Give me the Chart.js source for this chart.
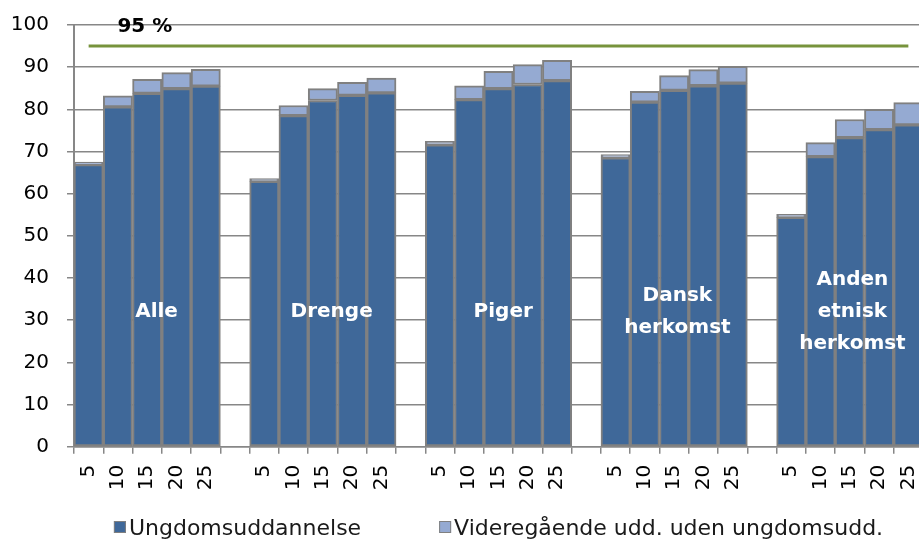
<!DOCTYPE html>
<html><head><meta charset="utf-8">
<script src="https://cdn.jsdelivr.net/npm/chart.js@4.4.0/dist/chart.umd.min.js"></script>
<style>
html,body{margin:0;padding:0;overflow:hidden;background:#fff;width:919px;height:544px}
#wrap{position:absolute;left:0;top:0;width:925px;height:544px}
</style></head>
<body><div id="wrap"><canvas id="c"></canvas></div>
<script>
// ---- data ----
const categories = ['5','10','15','20','25','', '5','10','15','20','25','', '5','10','15','20','25','', '5','10','15','20','25','', '5','10','15','20','25'];
const ungdomsuddannelse = [66.9,80.6,83.8,84.9,85.5,null, 62.9,78.5,82.1,83.3,83.9,null, 71.6,82.3,84.9,85.9,86.8,null, 68.5,81.7,84.5,85.6,86.2,null, 54.4,68.8,73.3,75.2,76.3];
const videregaaende = [0.6,2.6,3.3,3.8,4.0,null, 0.7,2.4,2.8,3.1,3.5,null, 0.8,3.3,4.1,4.7,4.8,null, 0.8,2.6,3.5,3.8,4.0,null, 0.7,3.3,4.3,4.8,5.3];
const maal = [95,95,95,95,95,95,95,95,95,95,95,95,95,95,95,95,95,95,95,95,95,95,95,95,95,95,95,95,95];
const yTicks = [0,10,20,30,40,50,60,70,80,90,100];
const seriesNames = ['Ungdomsuddannelse','Videregående udd. uden ungdomsudd.'];
const targetLabel = '95 %';
const groupLabels = [['Alle'],['Drenge'],['Piger'],['Dansk','herkomst'],['Anden','etnisk','herkomst']];

// ---- label placement (style) ----
const groupLabelX = [2.32, 8.30, 14.16, 20.11, 26.09];
const groupLabelY = 30.7;
const targetLabelX = 1.92, targetLabelY = 98.4;

Chart.defaults.font.family = '"DejaVu Sans", sans-serif';
Chart.defaults.color = '#000';
const GRID = '#878787';
const FONT = '"DejaVu Sans", sans-serif';

const annot = {
  id: 'annot',
  afterDatasetsDraw(chart) {
    const {ctx, scales: {x, y}} = chart;
    ctx.save();
    ctx.font = 'bold 20px ' + FONT;
    ctx.textAlign = 'center';
    ctx.textBaseline = 'alphabetic';
    ctx.fillStyle = '#000';
    ctx.fillText(targetLabel, x.getPixelForValue(targetLabelX), y.getPixelForValue(targetLabelY));
    ctx.fillStyle = '#fff';
    groupLabels.forEach((lines, i) => {
      const cx = x.getPixelForValue(groupLabelX[i]);
      const cy = y.getPixelForValue(groupLabelY);
      lines.forEach((t, j) => ctx.fillText(t, cx, cy + (j - (lines.length - 1) / 2) * 32));
    });
    ctx.restore();
  }
};

// legend drawn from the datasets' own labels and colours
const bottomLegend = {
  id: 'bottomLegend',
  afterDraw(chart, args, opts) {
    const {ctx, chartArea} = chart;
    const sets = chart.data.datasets.filter(d => d.type !== 'line');
    ctx.save();
    ctx.font = opts.fontSize + 'px ' + FONT;
    ctx.textBaseline = 'alphabetic';
    ctx.textAlign = 'left';
    const widths = sets.map(d => ctx.measureText(d.label).width);
    const total = widths.reduce((a, w) => a + opts.box + opts.gap + w, 0) + opts.spacing * (sets.length - 1);
    let xPos = (chartArea.left + chartArea.right) / 2 - total / 2;
    sets.forEach((d, i) => {
      ctx.fillStyle = d.backgroundColor;
      ctx.fillRect(xPos, opts.boxTop, opts.box, opts.box);
      ctx.strokeStyle = '#808080';
      ctx.lineWidth = 1;
      ctx.strokeRect(xPos + 0.5, opts.boxTop + 0.5, opts.box - 1, opts.box - 1);
      ctx.fillStyle = '#1a1a1a';
      ctx.fillText(d.label, xPos + opts.box + opts.gap, opts.baseline);
      xPos += opts.box + opts.gap + widths[i] + opts.spacing;
    });
    ctx.restore();
  }
};

new Chart(document.getElementById('c'), {
  type: 'bar',
  data: {
    labels: categories,
    datasets: [
      { label: seriesNames[0], data: ungdomsuddannelse, backgroundColor: '#3F6899', borderColor: '#808080', borderWidth: 2, borderSkipped: false, stack: 's', barPercentage: 1, categoryPercentage: 1, order: 2 },
      { label: seriesNames[1], data: videregaaende, backgroundColor: '#95AAD2', borderColor: '#808080', borderWidth: 2, borderSkipped: false, stack: 's', barPercentage: 1, categoryPercentage: 1, order: 2 },
      { type: 'line', label: 'Mål 95 %', data: maal, borderColor: '#77933C', borderWidth: 3, pointRadius: 0, fill: false, stack: 'line', order: 1 }
    ]
  },
  options: {
    responsive: true,
    maintainAspectRatio: false,
    devicePixelRatio: 1,
    animation: false,
    layout: { padding: { left: 0, top: 25, right: 2, bottom: 26.3 } },
    scales: {
      x: {
        stacked: true,
        grid: { drawOnChartArea: false, drawTicks: true, tickLength: 7, color: GRID, lineWidth: 1.5 },
        border: { color: GRID, width: 1.5 },
        ticks: { minRotation: 90, maxRotation: 90, autoSkip: false, padding: 11, font: { size: 20 }, color: '#000' },
        afterFit(s) { s.height = 71; s.paddingLeft = 0; s.paddingRight = 0; }
      },
      y: {
        stacked: true,
        min: 0, max: 100,
        afterBuildTicks(s) { s.ticks = yTicks.map(v => ({ value: v })); },
        grid: { color: GRID, lineWidth: 1.5, tickLength: 7 },
        border: { color: GRID, width: 2 },
        ticks: { padding: 18, font: { size: 20 }, color: '#000' },
        afterFit(s) { s.width = 74; s.paddingTop = 0; s.paddingBottom = 0; }
      }
    },
    plugins: {
      tooltip: { enabled: false },
      legend: { display: false },
      bottomLegend: { fontSize: 22, box: 12, gap: 3, spacing: 78, boxTop: 521, baseline: 535 }
    }
  },
  plugins: [annot, bottomLegend]
});
</script></body></html>
